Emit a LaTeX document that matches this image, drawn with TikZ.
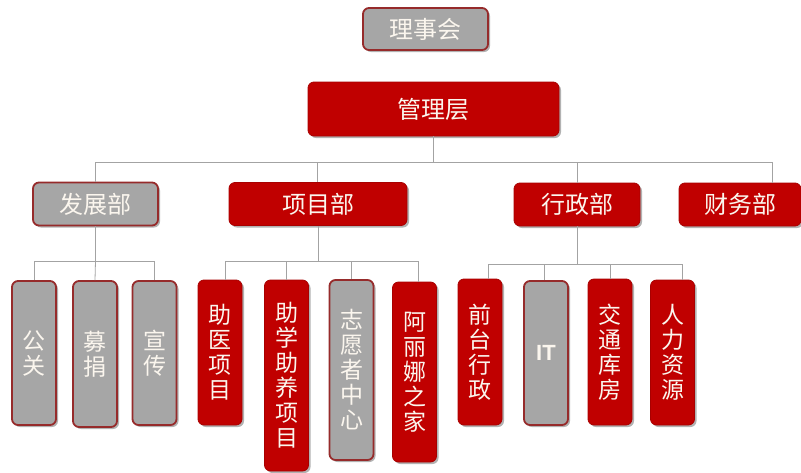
\documentclass[tikz,border=0pt]{standalone}
\usepackage{fontspec}
\setmainfont{Noto Sans CJK SC}
\newfontfamily\latinfont{Liberation Sans}
\usetikzlibrary{shadows}
\definecolor{boxred}{HTML}{C00000}
\definecolor{boxredline}{HTML}{A80000}
\definecolor{boxgray}{HTML}{A6A6A6}
\definecolor{grayline}{HTML}{962B2B}
\definecolor{conn}{HTML}{A3A3A3}
\definecolor{txt}{HTML}{FBF6EE}
\tikzset{
  base/.style={rectangle, rounded corners=6pt, inner sep=0pt, text=txt, align=center,
    drop shadow={shadow xshift=2pt, shadow yshift=-2pt, opacity=0.3, fill=black}},
  redbox/.style={base, fill=boxred, draw=boxredline, line width=0.8pt},
  graybox/.style={base, fill=boxgray, draw=grayline, line width=1.8pt},
  vert/.style={font=\fontsize{23}{25}\selectfont, minimum width=44pt},
  dept/.style={font=\fontsize{24}{26}\selectfont, minimum height=43pt},
  link/.style={draw=conn, line width=0.8pt},
}
\begin{document}
\begin{tikzpicture}[x=1pt,y=-1pt]
\useasboundingbox (0,0) rectangle (801,472);
% top
\node[graybox, minimum width=125pt, minimum height=42pt, font=\fontsize{24}{26}\selectfont] (board) at (425.5,29) {理事会};
\node[redbox, minimum width=251pt, minimum height=54pt, font=\fontsize{24}{28}\selectfont] (mgmt) at (433.5,109) {管理层};
% departments
\node[graybox, dept, minimum width=125pt] (dev) at (95.5,204) {发展部};
\node[redbox, dept, minimum width=178pt] (proj) at (318,204) {项目部};
\node[redbox, dept, minimum width=126pt] (admin) at (577,204.5) {行政部};
\node[redbox, dept, minimum width=122pt] (fin) at (740,204.5) {财务部};
% children of dev
\node[graybox, vert, minimum height=144pt] (gg) at (34,353) {公\\关};
\node[graybox, vert, minimum height=146pt] (mj) at (95,354) {募\\捐};
\node[graybox, vert, minimum height=144pt] (xc) at (154.5,353) {宣\\传};
% children of proj
\node[redbox, vert, minimum height=145pt] (zy) at (220,352.5) {助\\医\\项\\目};
\node[redbox, vert, minimum height=191pt] (zx) at (286.5,375.5) {助\\学\\助\\养\\项\\目};
\node[graybox, vert, minimum height=180pt] (zyz) at (351.5,370) {志\\愿\\者\\中\\心};
\node[redbox, vert, minimum height=180pt] (aln) at (414.5,372) {阿\\丽\\娜\\之\\家};
% children of admin
\node[redbox, vert, minimum height=146pt] (qt) at (480,352) {前\\台\\行\\政};
\node[graybox, vert, minimum height=144pt, font=\latinfont\bfseries\fontsize{22}{25}\selectfont] (it) at (546,353) {IT};
\node[redbox, vert, minimum height=146pt] (jt) at (610,352) {交\\通\\库\\房};
\node[redbox, vert, minimum height=145pt] (rl) at (672.5,352.5) {人\\力\\资\\源};
% buses
\coordinate (busA) at (0,162);
\coordinate (busB) at (0,261);
\coordinate (busC) at (0,264);
% connectors
\draw[link] (mgmt.south) -- (mgmt.south |- busA) -| (dev.north);
\draw[link] (mgmt.south |- busA) -| ([xshift=-1pt]proj.north);
\draw[link] (mgmt.south |- busA) -| (admin.north);
\draw[link] (mgmt.south |- busA) -| ([xshift=32pt]fin.north);
\draw[link] (dev.south) -- (dev.south |- busB) -| (gg.north);
\draw[link] (dev.south |- busB) -- (mj.north);
\draw[link] (dev.south |- busB) -| (xc.north);
\draw[link] (proj.south) -- (proj.south |- busB) -| ([xshift=5pt]zy.north);
\draw[link] (proj.south |- busB) -| (zx.north);
\draw[link] (proj.south |- busB) -| (zyz.north);
\draw[link] (proj.south |- busB) -| ([xshift=3.5pt]aln.north);
\draw[link] (admin.south) -- (admin.south |- busC) -| ([xshift=8pt]qt.north);
\draw[link] (admin.south |- busC) -| ([xshift=-2pt]it.north);
\draw[link] (admin.south |- busC) -| (jt.north);
\draw[link] (admin.south |- busC) -| ([xshift=9.5pt]rl.north);
\end{tikzpicture}
\end{document}
